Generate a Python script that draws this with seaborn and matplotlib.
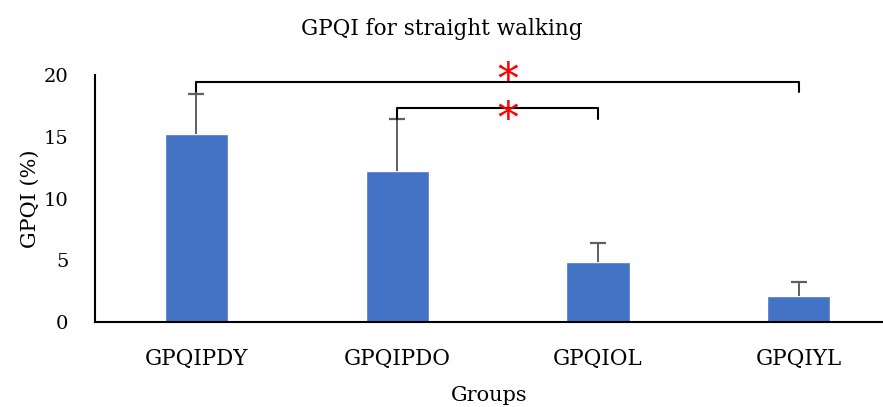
import numpy as np
import pandas as pd
import matplotlib
matplotlib.use("Agg")
import matplotlib.pyplot as plt
import seaborn as sns

# data
groups = ["GPQIPDY", "GPQIPDO", "GPQIOL", "GPQIYL"]
means = [15.2, 12.2, 4.85, 2.1]
upper_err = [3.25, 4.2, 1.55, 1.15]

# significance brackets: (left group idx, right group idx, bar height, tick bottom)
brackets = [(0, 3, 19.46, 18.6), (1, 2, 17.33, 16.4)]
star_x = 1.55
star_y = [19.84, 16.75]

sns.set_theme(style="white")
plt.rcParams["font.family"] = ["DejaVu Serif"]
plt.rcParams["text.color"] = "black"
plt.rcParams["axes.labelcolor"] = "black"

df = pd.DataFrame({"group": groups, "gpqi": means})

fig = plt.figure(figsize=(8.83, 4.07), dpi=100)
ax = fig.add_axes([0.1076, 0.2088, 0.8924, 0.6069])

sns.barplot(data=df, x="group", y="gpqi", color="#4472C4", width=0.315,
            errorbar=None, saturation=1, ax=ax)
eb = ax.errorbar(np.arange(len(groups)), means, yerr=[[0] * len(groups), upper_err],
                 fmt="none", ecolor="#5f5f5f", elinewidth=1.4, capsize=6, capthick=1.6)
# only the upper caps are wanted
eb[1][0].set_visible(False)

for (left, right, top, bottom), sy in zip(brackets, star_y):
    ax.plot([left, left, right, right], [bottom, top, top, bottom],
            color="black", lw=1.5, clip_on=False)
    ax.text(star_x, sy, "*", color="red", fontsize=30,
            ha="center", va="center_baseline", clip_on=False)

ax.set_ylim(0, 20)
ax.set_xlim(-0.505, 3.42)
ax.set_yticks([0, 5, 10, 15, 20])
ax.tick_params(axis="both", length=0, colors="black")
ax.tick_params(axis="y", labelsize=14, pad=19)
ax.tick_params(axis="x", labelsize=15.5, pad=19)
ax.set_xlabel("Groups", fontsize=15, labelpad=11)
ax.set_ylabel("GPQI (%)", fontsize=15, labelpad=3)
fig.suptitle("GPQI for straight walking", fontsize=15.5, y=0.955)

for side in ["top", "right"]:
    ax.spines[side].set_visible(False)
for side in ["left", "bottom"]:
    ax.spines[side].set_color("black")
    ax.spines[side].set_linewidth(1.5)

fig.savefig("out.png", dpi=100)
